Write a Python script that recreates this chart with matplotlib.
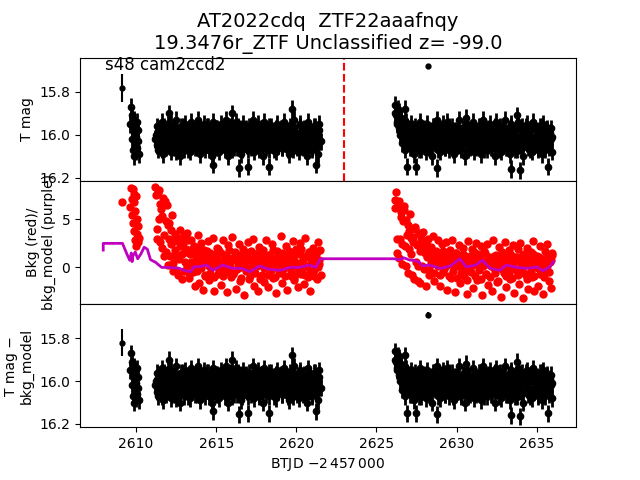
import matplotlib
matplotlib.use("Agg")
import matplotlib.pyplot as plt

# --- light curve data (BTJD - 2457000) ---
# isolated points
t_iso = [2609.13, 2628.20]
mag_iso = [15.78, 15.68]
err_iso = [0.065, 0.012]
magc_iso = [15.82, 15.69]
bkg_iso = [6.8, 1.0]

# strip near 2610
t_A = [2609.64, 2609.68, 2609.72, 2609.75, 2609.78, 2609.81, 2609.84, 2609.87, 2609.90,
       2609.93, 2609.96, 2609.99, 2610.02, 2610.05, 2610.08, 2610.11, 2610.14, 2610.18]
mag_A = [15.95, 15.87, 16.02, 15.91, 16.07, 15.96, 16.10, 15.99, 15.93,
         16.04, 15.97, 16.08, 16.01, 15.94, 16.06, 15.98, 16.03, 16.09]
bkg_A = [6.3, 8.3, 7.1, 5.4, 8.1, 4.6, 7.6, 3.8, 6.8,
         2.9, 5.9, 2.2, 7.4, 3.5, 5.0, 2.6, 4.3, 3.1]

# first orbit
t_B = [2611.20, 2611.28, 2611.36, 2611.44, 2611.52, 2611.60, 2611.68, 2611.76, 2611.84, 2611.92,
       2612.00, 2612.08, 2612.16, 2612.24, 2612.32, 2612.40, 2612.48, 2612.56, 2612.64, 2612.72,
       2612.80, 2612.88, 2612.96, 2613.04, 2613.12, 2613.20, 2613.28, 2613.36, 2613.44, 2613.52,
       2613.60, 2613.68, 2613.76, 2613.84, 2613.92, 2614.00, 2614.08, 2614.16, 2614.24, 2614.32,
       2614.40, 2614.48, 2614.56, 2614.64, 2614.72, 2614.80, 2614.88, 2614.96, 2615.04, 2615.12,
       2615.20, 2615.28, 2615.36, 2615.44, 2615.52, 2615.60, 2615.68, 2615.76, 2615.84, 2615.92,
       2616.00, 2616.08, 2616.16, 2616.24, 2616.32, 2616.40, 2616.48, 2616.56, 2616.64, 2616.72,
       2616.80, 2616.88, 2616.96, 2617.04, 2617.12, 2617.20, 2617.28, 2617.36, 2617.44, 2617.52,
       2617.60, 2617.68, 2617.76, 2617.84, 2617.92, 2618.00, 2618.08, 2618.16, 2618.24, 2618.32,
       2618.40, 2618.48, 2618.56, 2618.64, 2618.72, 2618.80, 2618.88, 2618.96, 2619.04, 2619.12,
       2619.20, 2619.28, 2619.36, 2619.44, 2619.52, 2619.60, 2619.68, 2619.76, 2619.84, 2619.92,
       2620.00, 2620.08, 2620.16, 2620.24, 2620.32, 2620.40, 2620.48, 2620.56, 2620.64, 2620.72,
       2620.80, 2620.88, 2620.96, 2621.04, 2621.12, 2621.20, 2621.28, 2621.36, 2621.44, 2621.52]
mag_B = [16.02, 15.96, 16.07, 15.99, 16.04, 15.94, 16.09, 16.01, 15.97, 16.05,
         15.95, 16.03, 16.08, 15.98, 16.00, 16.06, 15.93, 16.04, 15.99, 16.10,
         15.96, 16.02, 16.07, 15.95, 16.05, 15.98, 16.01, 16.08, 15.94, 16.03,
         15.97, 16.06, 16.00, 15.93, 16.04, 16.09, 15.98, 16.02, 15.95, 16.07,
         16.01, 15.96, 16.05, 15.99, 16.10, 15.94, 16.03, 16.06, 15.97, 16.00,
         16.08, 15.95, 16.02, 15.98, 16.05, 15.93, 16.04, 16.10, 15.96, 16.01,
         16.07, 15.99, 16.03, 15.94, 16.06, 16.00, 15.97, 16.09, 15.95, 16.04,
         16.02, 15.98, 16.07, 15.96, 16.01, 16.05, 15.93, 16.08, 15.99, 16.03,
         15.95, 16.06, 16.00, 15.97, 16.10, 15.94, 16.04, 16.02, 15.98, 16.07,
         15.96, 16.01, 16.05, 15.99, 16.08, 15.95, 16.03, 16.00, 15.97, 16.06,
         15.94, 16.04, 16.02, 15.98, 16.09, 15.96, 16.01, 16.07, 15.93, 16.05,
         15.99, 16.03, 16.08, 15.95, 16.00, 16.06, 15.97, 16.02, 16.10, 15.94,
         16.04, 15.98, 16.07, 16.01, 15.96, 16.05, 15.99, 16.09, 15.95, 16.03]
bkg_B = [8.4, 3.0, 7.8, 5.0, 6.6, 2.0, 7.2, 1.2, 4.8, 6.5,
         0.3, 4.6, 2.4, 5.4, -0.4, 3.5, 1.2, 2.9, -0.8, 3.9,
         2.6, -1.2, 3.3, 0.6, 1.9, 3.6, -1.1, 1.4, 2.9, -0.5,
         2.2, -1.9, 1.1, 3.4, -1.6, 0.7, 2.5, -2.3, 1.8, -0.9,
         0.9, 2.7, -1.3, 1.5, 0.1, 3.1, -2.4, 1.0, 2.0, -0.7,
         1.7, -1.8, 0.4, 2.9, -0.2, 1.3, -2.6, 2.3, 0.6, -1.0,
         3.2, -0.5, 1.2, -2.2, 0.8, 2.4, -1.4, 0.0, 1.9, -2.9,
         1.6, 0.3, 2.6, -1.2, 0.9, -0.4, 3.0, -1.9, 1.4, 0.2,
         -2.5, 2.1, 0.7, -0.8, 1.8, -1.5, 2.8, 0.1, -2.0, 1.3,
         0.5, 2.4, -1.1, 1.0, -2.7, 1.7, 0.4, -0.6, 3.3, -1.6,
         1.1, 0.0, 2.2, -2.3, 0.8, 1.5, -0.9, 2.7, -1.3, 0.6,
         1.9, -2.0, 0.3, 2.5, -0.7, 1.2, -1.7, 3.1, 0.2, -1.0,
         1.6, -2.4, 0.9, 2.0, -0.3, 1.4, -1.2, 2.6, 0.4, -0.8]

t_B2 = [2611.24, 2611.32, 2611.40, 2611.48, 2611.56, 2611.64, 2611.72, 2611.80, 2611.88, 2611.96,
        2612.04, 2612.12, 2612.20, 2612.28, 2612.36, 2612.44, 2612.52, 2612.60, 2612.68, 2612.76,
        2612.84, 2612.92, 2613.00, 2613.08, 2613.16, 2613.24, 2613.32, 2613.40, 2613.48, 2613.56,
        2613.64, 2613.72, 2613.80, 2613.88, 2613.96, 2614.04, 2614.12, 2614.20, 2614.28, 2614.36,
        2614.44, 2614.52, 2614.60, 2614.68, 2614.76, 2614.84, 2614.92, 2615.00, 2615.08, 2615.16,
        2615.24, 2615.32, 2615.40, 2615.48, 2615.56, 2615.64, 2615.72, 2615.80, 2615.88, 2615.96,
        2616.04, 2616.12, 2616.20, 2616.28, 2616.36, 2616.44, 2616.52, 2616.60, 2616.68, 2616.76,
        2616.84, 2616.92, 2617.00, 2617.08, 2617.16, 2617.24, 2617.32, 2617.40, 2617.48, 2617.56,
        2617.64, 2617.72, 2617.80, 2617.88, 2617.96, 2618.04, 2618.12, 2618.20, 2618.28, 2618.36,
        2618.44, 2618.52, 2618.60, 2618.68, 2618.76, 2618.84, 2618.92, 2619.00, 2619.08, 2619.16,
        2619.24, 2619.32, 2619.40, 2619.48, 2619.56, 2619.64, 2619.72, 2619.80, 2619.88, 2619.96,
        2620.04, 2620.12, 2620.20, 2620.28, 2620.36, 2620.44, 2620.52, 2620.60, 2620.68, 2620.76,
        2620.84, 2620.92, 2621.00, 2621.08, 2621.16, 2621.24, 2621.32, 2621.40, 2621.48]
mag_B2 = [16.00, 16.05, 15.97, 16.03, 15.99, 16.07, 15.96, 16.02, 16.06, 15.98,
          16.04, 16.00, 15.95, 16.06, 16.01, 15.97, 16.08, 16.03, 15.99, 16.05,
          16.01, 15.96, 16.04, 16.00, 15.98, 16.07, 16.02, 15.96, 16.05, 16.00,
          16.03, 15.98, 16.06, 16.01, 15.97, 16.02, 16.05, 15.99, 16.04, 16.00,
          15.96, 16.07, 16.02, 15.98, 16.03, 16.05, 16.00, 15.97, 16.06, 16.02,
          15.99, 16.04, 16.01, 15.96, 16.07, 16.00, 15.98, 16.03, 16.05, 15.97,
          16.02, 16.06, 15.99, 16.01, 15.96, 16.04, 16.00, 16.07, 15.98, 16.03,
          15.97, 16.05, 16.01, 15.99, 16.06, 16.02, 15.96, 16.04, 16.00, 15.98,
          16.07, 16.03, 15.97, 16.05, 16.01, 15.99, 16.06, 16.02, 15.96, 16.04,
          16.00, 15.98, 16.07, 16.03, 15.97, 16.05, 16.01, 15.99, 16.06, 16.02,
          15.96, 16.04, 16.00, 16.07, 15.98, 16.03, 15.97, 16.05, 16.01, 15.99,
          16.06, 16.02, 15.96, 16.04, 16.00, 15.98, 16.07, 16.03, 15.97, 16.05,
          16.01, 15.99, 16.06, 16.02, 15.96, 16.04, 16.00, 15.98, 16.03]
bkg_B2 = [7.5, 4.0, 8.0, 2.6, 6.1, 5.3, 3.4, 6.9, 1.6, 4.4,
          3.0, 1.2, 3.9, 0.5, 2.7, 1.8, -0.3, 3.1, 0.9, 2.2,
          1.4, 2.5, -0.4, 1.6, 0.2, 2.8, -0.7, 0.6, 1.9, 0.1,
          0.4, 1.5, -0.4, 0.8, 1.9, -0.1, 0.5, 1.3, -0.8, 0.9,
          1.7, 0.2, -0.6, 1.1, 0.6, -1.0, 1.4, 0.3, 1.9, -0.3,
          0.7, 1.5, -0.9, 0.1, 1.2, 0.5, -0.5, 1.8, 0.0, 1.0,
          -0.7, 0.9, 1.6, -0.2, 0.4, 1.3, -1.1, 0.7, 1.5, 0.2,
          -0.4, 1.1, 0.6, -0.9, 1.7, 0.0, 0.8, -0.6, 1.4, 0.3,
          1.0, -1.2, 0.5, 1.6, -0.1, 0.9, 0.2, -0.8, 1.3, 0.6,
          -0.3, 1.8, 0.1, -1.0, 0.7, 1.2, -0.5, 0.4, 1.5, -0.2,
          0.8, -0.9, 1.1, 0.3, 1.7, -0.4, 0.6, 1.0, -1.1, 0.2,
          1.4, -0.6, 0.5, 1.9, -0.2, 0.9, -0.8, 1.2, 0.1, 1.6,
          -0.5, 0.7, 1.1, -0.9, 0.4, 1.5, 0.0, 0.8, 1.8]

# second orbit
t_C = [2626.14, 2626.22,
       2626.30, 2626.38, 2626.46, 2626.54, 2626.62, 2626.70, 2626.78, 2626.86, 2626.94, 2627.02,
       2627.10, 2627.18, 2627.26, 2627.34, 2627.42, 2627.50, 2627.58, 2627.66, 2627.74, 2627.82,
       2627.90, 2627.98, 2628.06, 2628.14, 2628.22, 2628.30, 2628.38, 2628.46, 2628.54, 2628.62,
       2628.70, 2628.78, 2628.86, 2628.94, 2629.02, 2629.10, 2629.18, 2629.26, 2629.34, 2629.42,
       2629.50, 2629.58, 2629.66, 2629.74, 2629.82, 2629.90, 2629.98, 2630.06, 2630.14, 2630.22,
       2630.30, 2630.38, 2630.46, 2630.54, 2630.62, 2630.70, 2630.78, 2630.86, 2630.94, 2631.02,
       2631.10, 2631.18, 2631.26, 2631.34, 2631.42, 2631.50, 2631.58, 2631.66, 2631.74, 2631.82,
       2631.90, 2631.98, 2632.06, 2632.14, 2632.22, 2632.30, 2632.38, 2632.46, 2632.54, 2632.62,
       2632.70, 2632.78, 2632.86, 2632.94, 2633.02, 2633.10, 2633.18, 2633.26, 2633.34, 2633.42,
       2633.50, 2633.58, 2633.66, 2633.74, 2633.82, 2633.90, 2633.98, 2634.06, 2634.14, 2634.22,
       2634.30, 2634.38, 2634.46, 2634.54, 2634.62, 2634.70, 2634.78, 2634.86, 2634.94, 2635.02,
       2635.10, 2635.18, 2635.26, 2635.34, 2635.42, 2635.50, 2635.58, 2635.66, 2635.74, 2635.82,
       2635.90, 2635.98]
mag_C = [15.86, 15.91, 15.95, 15.89, 16.00, 15.93, 16.04, 15.97, 16.07, 15.94,
         16.02, 15.98, 16.06, 15.95, 16.01, 16.09, 15.96, 16.03, 15.99, 16.07,
         15.94, 16.05, 16.00, 15.97, 16.08, 15.95, 16.02, 16.06, 15.98, 16.10,
         15.96, 16.03, 16.00, 15.93, 16.05, 16.08, 15.97, 16.01, 15.95, 16.06,
         16.02, 15.94, 16.07, 15.99, 16.04, 15.96, 16.09, 16.01, 15.98, 16.05,
         15.93, 16.03, 16.07, 15.97, 16.00, 16.10, 15.95, 16.04, 15.99, 16.06,
         16.02, 15.94, 16.08, 15.98, 16.01, 16.05, 15.96, 16.09, 16.00, 15.93,
         16.04, 15.97, 16.07, 16.02, 15.95, 16.06, 15.99, 16.03, 16.10, 15.94,
         16.01, 16.05, 15.96, 16.08, 15.98, 16.02, 15.93, 16.06, 16.00, 15.97,
         16.09, 15.95, 16.04, 16.01, 15.98, 16.07, 15.94, 16.03, 16.05, 15.96,
         16.10, 15.99, 16.02, 15.95, 16.06, 16.00, 15.97, 16.08, 15.94, 16.04,
         16.01, 15.98, 16.07, 15.96, 16.03, 16.09, 15.95, 16.05, 16.00, 15.97,
         16.06, 15.99, 16.02, 16.08]
bkg_C = [6.2, 7.8, 1.5, 6.9, 3.0, 5.8, 0.4, 6.4, 2.2, 4.9,
         -0.6, 3.8, 5.5, 1.4, 3.2, -1.2, 4.2, 2.3, 0.1, 3.6,
         -1.6, 2.6, 3.7, -0.2, 2.5, 1.1, 3.0, -0.8, 2.1, 0.4,
         3.3, -1.4, 1.7, 0.6, 2.8, -1.9, 1.3, 2.4, -0.5, 0.9,
         2.6, -2.3, 1.0, 1.8, -1.1, 2.9, 0.2, -2.6, 1.5, 0.7,
         2.3, -1.6, 0.3, 2.0, -0.9, 1.2, -2.8, 2.7, 0.5, -0.4,
         1.9, -2.1, 0.8, 2.5, -1.3, 1.4, -0.1, 2.2, -2.9, 0.6,
         1.7, -0.7, 2.4, -1.8, 1.0, 0.1, -2.4, 2.8, -0.3, 1.3,
         -1.5, 2.1, 0.4, -3.1, 1.6, -0.6, 2.6, -2.0, 0.9, 1.8,
         -1.2, 0.2, 2.3, -2.7, 1.1, -0.4, 1.9, -1.7, 2.5, 0.3,
         -3.2, 1.4, -0.8, 2.0, -2.2, 0.7, 1.6, -1.0, 2.7, -2.5,
         0.5, 1.2, -1.9, 2.2, -0.2, 0.9, -2.8, 1.7, -0.5, 2.4,
         -1.4, 0.6, -2.1, 1.3]

t_C2 = [2626.18, 2626.26, 2626.34, 2626.42, 2626.50, 2626.58, 2626.66, 2626.74, 2626.82, 2626.90,
        2626.98, 2627.06, 2627.14, 2627.22, 2627.30, 2627.38, 2627.46, 2627.54, 2627.62, 2627.70,
        2627.78, 2627.86, 2627.94, 2628.02, 2628.10, 2628.18, 2628.26, 2628.34, 2628.42, 2628.50,
        2628.58, 2628.66, 2628.74, 2628.82, 2628.90, 2628.98, 2629.06, 2629.14, 2629.22, 2629.30,
        2629.38, 2629.46, 2629.54, 2629.62, 2629.70, 2629.78, 2629.86, 2629.94, 2630.02, 2630.10,
        2630.18, 2630.26, 2630.34, 2630.42, 2630.50, 2630.58, 2630.66, 2630.74, 2630.82, 2630.90,
        2630.98, 2631.06, 2631.14, 2631.22, 2631.30, 2631.38, 2631.46, 2631.54, 2631.62, 2631.70,
        2631.78, 2631.86, 2631.94, 2632.02, 2632.10, 2632.18, 2632.26, 2632.34, 2632.42, 2632.50,
        2632.58, 2632.66, 2632.74, 2632.82, 2632.90, 2632.98, 2633.06, 2633.14, 2633.22, 2633.30,
        2633.38, 2633.46, 2633.54, 2633.62, 2633.70, 2633.78, 2633.86, 2633.94, 2634.02, 2634.10,
        2634.18, 2634.26, 2634.34, 2634.42, 2634.50, 2634.58, 2634.66, 2634.74, 2634.82, 2634.90,
        2634.98, 2635.06, 2635.14, 2635.22, 2635.30, 2635.38, 2635.46, 2635.54, 2635.62, 2635.70,
        2635.78, 2635.86, 2635.94]
mag_C2 = [15.90, 15.94, 15.88, 15.97, 15.92, 16.01, 15.95, 16.04, 15.99, 15.96,
          16.03, 16.00, 16.06, 15.97, 16.02, 16.05, 15.98, 16.04, 16.00, 15.96,
          16.07, 16.02, 15.98, 16.05, 16.01, 15.97, 16.03, 16.06, 15.99, 16.02,
          15.96, 16.04, 16.00, 16.07, 15.98, 16.03, 16.05, 15.97, 16.01, 16.06,
          15.99, 16.02, 15.96, 16.04, 16.00, 16.07, 15.98, 16.03, 16.05, 15.97,
          16.01, 16.06, 15.99, 16.02, 15.96, 16.04, 16.00, 16.07, 15.98, 16.03,
          16.05, 15.97, 16.01, 16.06, 15.99, 16.02, 15.96, 16.04, 16.00, 16.07,
          15.98, 16.03, 16.05, 15.97, 16.01, 16.06, 15.99, 16.02, 15.96, 16.04,
          16.00, 16.07, 15.98, 16.03, 16.05, 15.97, 16.01, 16.06, 15.99, 16.02,
          15.96, 16.04, 16.00, 16.07, 15.98, 16.03, 16.05, 15.97, 16.01, 16.06,
          15.99, 16.02, 15.96, 16.04, 16.00, 16.07, 15.98, 16.03, 16.05, 15.97,
          16.01, 16.06, 15.99, 16.02, 15.96, 16.04, 16.00, 16.07, 15.98, 16.03,
          16.05, 15.97, 16.01]
bkg_C2 = [7.0, 3.0, 6.5, 1.0, 5.2, 2.4, 4.8, 6.0, 0.2, 3.4,
          4.4, 1.9, 3.1, -0.8, 2.6, 4.0, 0.6, 2.4, -1.4, 1.7,
          3.1, 0.2, 2.0, 1.5, -1.9, 1.9, -0.3, 1.2, 0.5, 1.6,
          -0.6, 0.8, 1.4, 0.1, 1.0, -0.8, 0.6, 1.7, -0.2, 0.9,
          0.3, 1.3, -0.9, 0.5, 1.1, -0.4, 0.7, 1.5, -1.1, 0.2,
          1.0, -0.6, 0.4, 1.4, -0.2, 0.8, -1.3, 0.6, 1.2, -0.5,
          0.3, 1.6, -0.9, 0.5, 0.9, -0.3, 1.3, -1.2, 0.1, 0.7,
          1.5, -0.7, 0.4, 1.1, -1.0, 0.6, 0.0, 1.2, -0.6, 0.8,
          -1.4, 0.3, 1.0, -0.2, 0.5, 1.4, -0.9, 0.2, 0.9, -0.5,
          1.3, -1.1, 0.4, 0.8, -0.3, 1.1, -0.8, 0.6, 0.0, 1.2,
          -0.6, 0.3, 1.0, -1.2, 0.5, 0.8, -0.4, 1.4, -0.9, 0.2,
          0.7, -0.1, 1.1, -0.7, 0.4, 0.9, -1.0, 0.6, 0.2, 1.3,
          -0.5, 0.8, 1.5]

# points sticking out of the band
t_spk = [2612.07, 2615.98, 2619.75, 2614.80, 2616.40, 2617.00, 2618.30, 2621.20,
         2626.75, 2630.60, 2633.75, 2626.90, 2627.45, 2628.80, 2633.40, 2633.95, 2635.70]
mag_spk = [15.90, 15.90, 15.88, 16.14, 16.155, 16.15, 16.15, 16.14,
           15.88, 15.92, 15.91, 16.15, 16.15, 16.155, 16.16, 16.165, 16.15]

# smoothed background model
model_t = [2607.95, 2607.95, 2609.15, 2609.45, 2609.60, 2609.70, 2609.75, 2609.80, 2609.95,
           2610.10, 2610.30, 2610.50, 2610.70, 2610.90, 2611.20, 2611.60, 2612.10, 2612.70,
           2613.00, 2613.40, 2613.60, 2614.00, 2614.40, 2614.80, 2615.40, 2616.00, 2616.60,
           2617.10, 2617.70, 2618.30, 2619.00, 2619.60, 2620.20, 2620.80, 2621.20, 2621.50,
           2626.10, 2626.40, 2626.70, 2627.10, 2627.30, 2627.60, 2627.90, 2628.30, 2629.00,
           2629.60, 2630.20, 2630.60, 2631.20, 2631.60, 2632.10, 2632.70, 2633.10, 2633.75,
           2634.40, 2635.00, 2635.40, 2635.80, 2636.05]
model_v = [1.8, 2.5, 2.5, 1.3, 0.75, 1.5, 0.6, 1.2, 1.6,
           0.9, 1.4, 2.1, 1.9, 0.8, 0.55, 0.0, 0.0, -0.1,
           -0.3, -0.45, 0.05, 0.1, 0.25, -0.3, 0.25, -0.1, -0.1,
           -0.45, 0.15, -0.2, -0.3, 0.0, 0.0, 0.25, 0.0, 0.9,
           0.9, 0.8, 1.0, 0.75, 0.75, 0.6, 0.15, 0.25, -0.1,
           0.15, 0.9, 0.05, 0.25, 0.75, -0.1, -0.3, 0.25, 0.0,
           -0.1, 0.05, -0.35, 0.05, 0.6]

mag_sets = [(t_A, mag_A), (t_B, mag_B), (t_B2, mag_B2), (t_C, mag_C), (t_C2, mag_C2), (t_spk, mag_spk)]
bkg_sets = [([t_iso[0]], [bkg_iso[0]]), (t_A, bkg_A), (t_B, bkg_B), (t_B2, bkg_B2), (t_C, bkg_C), (t_C2, bkg_C2)]

fig, (ax1, ax2, ax3) = plt.subplots(3, 1, sharex=True, figsize=(6.4, 4.8), dpi=100)
fig.subplots_adjust(hspace=0)

# top and bottom: T mag (raw / background corrected)
for ax, iso in ((ax1, mag_iso), (ax3, magc_iso)):
    ax.errorbar(t_iso, iso, yerr=err_iso, fmt="ko", ms=3.5)
    for t, m in mag_sets:
        ax.errorbar(t, m, yerr=0.04, fmt="ko", ms=4.5, elinewidth=2)
    ax.set_ylim(16.215, 15.64)
    ax.set_yticks([15.8, 16.0, 16.2])

ax1.axvline(2622.95, color="r", ls="--", lw=1.5)
ax1.text(0.05, 0.9, "s48 cam2ccd2", transform=ax1.transAxes, fontsize=12)
ax1.set_ylabel("T mag")
ax1.set_title("AT2022cdq  ZTF22aaafnqy\n19.3476r_ZTF Unclassified z= -99.0", fontsize=14)

# middle: background
for t, b in bkg_sets:
    ax2.plot(t, b, "ro", ms=5)
ax2.plot(model_t, model_v, color="m", lw=2)
ax2.set_ylim(-3.8, 9.0)
ax2.set_yticks([0, 5])
ax2.set_ylabel("Bkg (red)/\nbkg_model (purple)")

ax3.set_ylabel("T mag \u2212\nbkg_model")
ax3.set_xlabel(r"BTJD $-2\,457\,000$")
ax3.set_xlim(2606.5, 2637.45)
ax3.set_xticks([2610, 2615, 2620, 2625, 2630, 2635])

plt.savefig("out.png")
